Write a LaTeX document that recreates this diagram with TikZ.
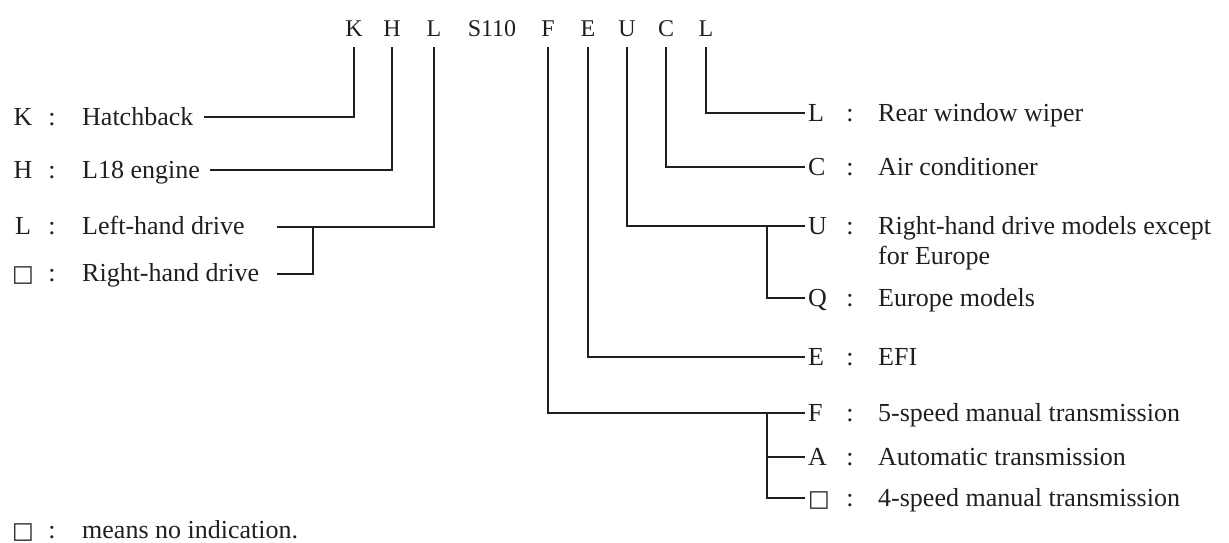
\documentclass[tikz,border=0pt]{standalone}
\usepackage{fontspec}
\setmainfont{Liberation Serif}
\newfontfamily\symfont{DejaVu Sans}
\newcommand{\nosq}{{\symfont\fontsize{23}{23}\selectfont □}}
\definecolor{ink}{gray}{0.12}
\begin{document}
\begin{tikzpicture}[x=1pt,y=-1pt,
  every node/.style={font=\fontsize{26}{30}\selectfont, text=ink, inner sep=0pt, text height=17pt, text depth=0pt},
  lbl/.style={anchor=west},
  lcode/.style={anchor=center},
  rcode/.style={anchor=west, inner xsep=3pt},
  topcode/.style={font=\fontsize{24}{28}\selectfont, anchor=center, text height=16pt, inner ysep=11pt},
  wire/.style={draw=ink, line width=1.6pt},
]
\useasboundingbox (0,0) rectangle (1229,542);

% code letters at the top
\node[topcode] (tK)  at (354,28) {K};
\node[topcode] (tH)  at (392,28) {H};
\node[topcode] (tL)  at (434,28) {L};
\node[topcode] (tS)  at (492,28) {S110};
\node[topcode] (tF)  at (548,28) {F};
\node[topcode] (tE)  at (588,28) {E};
\node[topcode] (tU)  at (627,28) {U};
\node[topcode] (tC)  at (666,28) {C};
\node[topcode] (tL2) at (706,28) {L};

% left column
\node[lcode] (kK) at (23,117) {K};
\node (cK) at (52,117) {:};
\node[lbl, inner xsep=10pt] (lK) at (72,117) {Hatchback};

\node[lcode] (kH) at (23,170) {H};
\node (cH) at (52,170) {:};
\node[lbl, inner xsep=10pt] (lH) at (72,170) {L18 engine};

\node[lcode] (kL) at (23,226) {L};
\node (cL) at (52,226) {:};
\node[lbl] (lL) at (82,226) {Left-hand drive};

\node[lcode] (kR) at (23,273) {\nosq};
\node (cR) at (52,273) {:};
\node[lbl] (lR) at (82,273) {Right-hand drive};

\node[lcode] (kN) at (23,530) {\nosq};
\node (cN) at (52,530) {:};
\node[lbl] (lN) at (82,530) {means no indication.};

% right column
\node[rcode] (rL) at (805,113) {L};
\node (cRL) at (850,113) {:};
\node[lbl] (dL) at (878,113) {Rear window wiper};

\node[rcode] (rC) at (805,167) {C};
\node (cRC) at (850,167) {:};
\node[lbl] (dC) at (878,167) {Air conditioner};

\node[rcode] (rU) at (805,226) {U};
\node (cRU) at (850,226) {:};
\node[lbl] (dU) at (878,226) {Right-hand drive models except};
\node[lbl] (dU2) at (878,256) {for Europe};

\node[rcode] (rQ) at (805,298) {Q};
\node (cRQ) at (850,298) {:};
\node[lbl] (dQ) at (878,298) {Europe models};

\node[rcode] (rE) at (805,357) {E};
\node (cRE) at (850,357) {:};
\node[lbl] (dE) at (878,357) {EFI};

\node[rcode] (rF) at (805,413) {F};
\node (cRF) at (850,413) {:};
\node[lbl] (dF) at (878,413) {5-speed manual transmission};

\node[rcode] (rA) at (805,457) {A};
\node (cRA) at (850,457) {:};
\node[lbl] (dA) at (878,457) {Automatic transmission};

\node[rcode] (rS) at (805,498) {\nosq};
\node (cRS) at (850,498) {:};
\node[lbl] (dS) at (878,498) {4-speed manual transmission};

% junction helpers
\coordinate (bL) at (277,227);
\coordinate (bR) at (277,274);
\coordinate (jLx) at (313,0);
\coordinate (jx) at (767,0);

% connectors, left
\draw[wire] (lK.east) -| (tK.south);
\draw[wire] (lH.east) -| (tH.south);
\draw[wire] (tL.south) |- (bL);
\draw[wire] (bL -| jLx) |- (bR);

% connectors, right
\draw[wire] (tL2.south) |- (rL.west);
\draw[wire] (tC.south) |- (rC.west);
\draw[wire] (tU.south) |- (rU.west);
\draw[wire] (rU.west -| jx) |- (rQ.west);
\draw[wire] (tE.south) |- (rE.west);
\draw[wire] (tF.south) |- (rF.west);
\draw[wire] (rF.west -| jx) |- (rS.west);
\draw[wire] (rA.west -| jx) -- (rA.west);
\end{tikzpicture}
\end{document}
